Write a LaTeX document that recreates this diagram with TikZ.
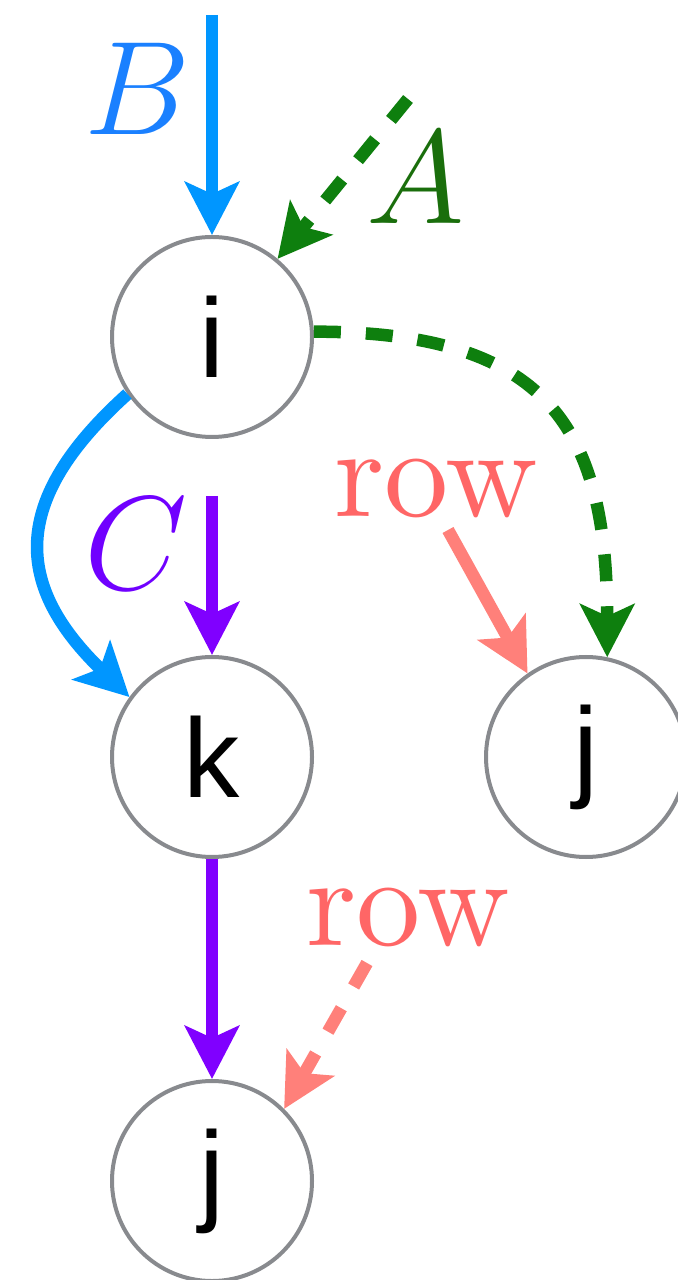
\RequirePackage{fix-cm}
\documentclass[tikz,border=0pt]{standalone}
\usepackage{fontspec}
\newfontfamily\vertexfont{Liberation Sans}
\newfontfamily\rowfont{lmroman10-regular}[Extension=.otf]
\usetikzlibrary{arrows.meta}
\definecolor{ringgray}{RGB}{136,138,142}
\definecolor{bcol}{RGB}{0,150,255}
\definecolor{btext}{RGB}{26,128,255}
\definecolor{acol}{RGB}{14,127,14}
\definecolor{atext}{RGB}{26,110,12}
\definecolor{ccol}{RGB}{128,0,255}
\definecolor{ctext}{RGB}{112,0,255}
\definecolor{rowcol}{RGB}{255,128,122}
\definecolor{rowtext}{RGB}{255,102,102}
\begin{document}
\begin{tikzpicture}[
    vertex/.style={circle, draw=ringgray, line width=0.04cm, minimum size=2cm, inner sep=0pt,
        font=\vertexfont\fontsize{32}{34}\selectfont},
    flow/.style={line width=0.125cm, -{Stealth[length=0.53cm,width=0.54cm,inset=0.12cm]}},
    dashflow/.style={flow, dash pattern=on 0.27cm off 0.25cm},
    mlabel/.style={anchor=base, inner sep=0pt, font=\fontsize{38}{40}\selectfont},
    rlabel/.style={anchor=base, inner sep=0pt, text=rowtext, font=\rowfont\fontsize{36.5}{40}\selectfont}
    ]
	\useasboundingbox (0,0) rectangle (6.77,-12.80);
	\node [vertex] (i) at (2.12,-3.37) {i};
	\node [vertex] (k) at (2.12,-7.57) {k};
	\node [vertex] (jr) at (5.86,-7.57) {j};
	\node [vertex] (jb) at (2.12,-11.81) {j};
	\coordinate (btop) at (2.12,-0.15);
	\coordinate (atop) at (4.08,-0.99);
	\coordinate (ctop) at (2.12,-4.96);
	\coordinate (rtop) at (4.48,-5.30);
	\coordinate (rbot) at (3.67,-9.63);
	\node [mlabel, text=btext] (blab) at (1.38,-1.35) {$B$};
	\node [mlabel, text=atext] (alab) at (4.16,-2.24) {$A$};
	\node [mlabel, text=ctext] (clab) at (1.36,-5.90) {$C$};
	\node [rlabel] (row1) at (4.36,-5.17) {row};
	\node [rlabel] (row2) at (4.08,-9.45) {row};
	\draw [flow, bcol] (btop) -- (i.north);
	\draw [dashflow, acol] (atop) -- (i.50);
	\draw [dashflow, acol] (i.3) to[out=0, in=90, looseness=1.35] (jr.78);
	\draw [flow, bcol] (i.214) to[out=222, in=136, looseness=1.35] (k.144);
	\draw [flow, ccol] (ctop) -- (k.north);
	\draw [flow, ccol] (k.south) -- (jb.north);
	\draw [flow, rowcol] (rtop) -- (jr.125);
	\draw [dashflow, rowcol] (rbot) -- (jb.45);
\end{tikzpicture}
\end{document}
